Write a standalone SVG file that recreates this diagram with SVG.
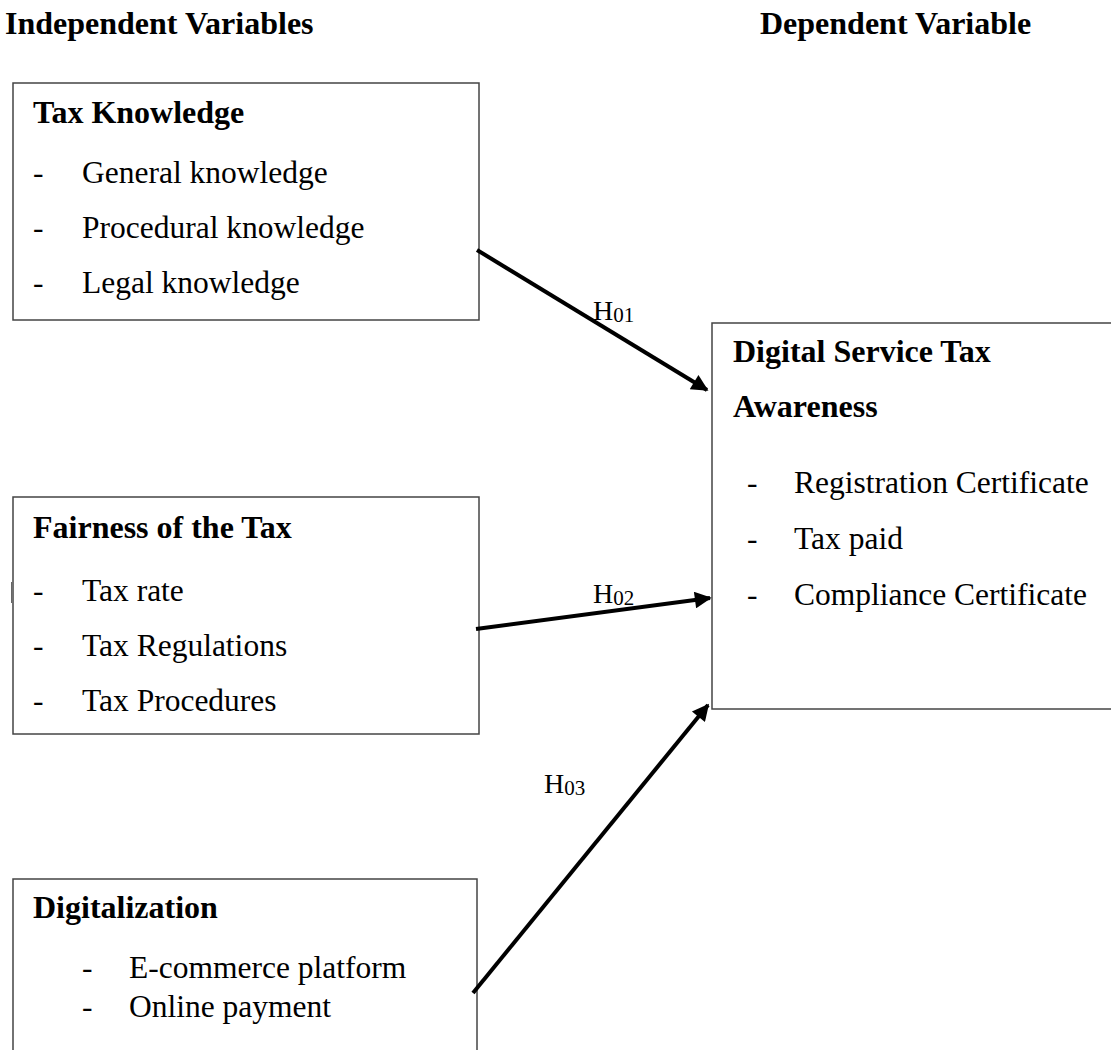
<svg xmlns="http://www.w3.org/2000/svg" width="1111" height="1050" viewBox="0 0 1111 1050">
<style>
text{font-family:"Liberation Serif","Times New Roman",serif;fill:#000}
.h{font-size:32px;font-weight:bold}
.t{font-size:31.5px}
.box{fill:#fff;stroke:#444;stroke-width:1.5}
.conn{stroke:#000;stroke-width:4;fill:none}
.lbl{font-size:28px}
.sub{font-size:21px}
</style>
<defs>
<marker id="ah" viewBox="0 0 10 10" refX="9" refY="5" markerWidth="5" markerHeight="4.2" orient="auto" markerUnits="strokeWidth">
<path d="M0,0 L10,5 L0,10 z" fill="#000"/>
</marker>
</defs>
<text class="h" x="5" y="34">Independent Variables</text>
<text class="h" x="760" y="34">Dependent Variable</text>
<g id="tax-knowledge">
<rect class="box" x="13" y="83" width="466" height="237"/>
<text class="h" x="33" y="123">Tax Knowledge</text>
<text class="t" x="33" y="183">-</text><text class="t" x="82" y="183">General knowledge</text>
<text class="t" x="33" y="238">-</text><text class="t" x="82" y="238">Procedural knowledge</text>
<text class="t" x="33" y="293">-</text><text class="t" x="82" y="293">Legal knowledge</text>
</g>
<g id="fairness">
<rect class="box" x="13" y="497" width="466" height="237"/>
<line x1="11.5" y1="582" x2="11.5" y2="603" stroke="#666" stroke-width="1"/>
<text class="h" x="33" y="538">Fairness of the Tax</text>
<text class="t" x="33" y="601">-</text><text class="t" x="82" y="601">Tax rate</text>
<text class="t" x="33" y="656">-</text><text class="t" x="82" y="656">Tax Regulations</text>
<text class="t" x="33" y="711">-</text><text class="t" x="82" y="711">Tax Procedures</text>
</g>
<g id="digitalization">
<rect class="box" x="13" y="879" width="464" height="200"/>
<text class="h" x="33" y="918">Digitalization</text>
<text class="t" x="82" y="978">-</text><text class="t" x="129" y="978">E-commerce platform</text>
<text class="t" x="82" y="1017">-</text><text class="t" x="129" y="1017">Online payment</text>
</g>
<g id="dst-awareness">
<rect class="box" x="712" y="323" width="420" height="386"/>
<text class="h" x="733" y="362">Digital Service Tax</text>
<text class="h" x="733" y="417">Awareness</text>
<text class="t" x="747" y="493">-</text><text class="t" x="794" y="493">Registration Certificate</text>
<text class="t" x="747" y="549">-</text><text class="t" x="794" y="549">Tax paid</text>
<text class="t" x="747" y="605">-</text><text class="t" x="794" y="605">Compliance Certificate</text>
</g>
<g id="connectors">
<line class="conn" x1="477" y1="250" x2="707" y2="390" marker-end="url(#ah)"/>
<line class="conn" x1="476" y1="629" x2="710" y2="598" marker-end="url(#ah)"/>
<line class="conn" x1="473" y1="993" x2="708" y2="705" marker-end="url(#ah)"/>
<text class="lbl" x="593" y="320">H<tspan class="sub" dy="2">01</tspan></text>
<text class="lbl" x="593" y="603">H<tspan class="sub" dy="2">02</tspan></text>
<text class="lbl" x="544" y="793">H<tspan class="sub" dy="2">03</tspan></text>
</g>
</svg>
